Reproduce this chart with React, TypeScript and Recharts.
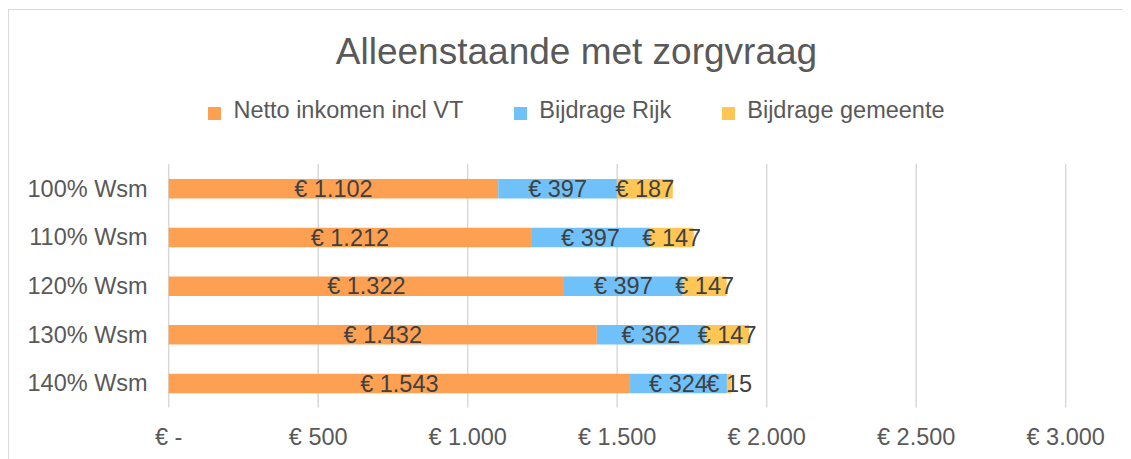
import React from "react";
import {
  BarChart,
  Bar,
  XAxis,
  YAxis,
  CartesianGrid,
  Legend,
  LabelList,
} from "recharts";

const categories = ["100% Wsm", "110% Wsm", "120% Wsm", "130% Wsm", "140% Wsm"];
const nettoInkomen = [1102, 1212, 1322, 1432, 1543];
const bijdrageRijk = [397, 397, 397, 362, 324];
const bijdrageGemeente = [187, 147, 147, 147, 15];
const xTicks = [0, 500, 1000, 1500, 2000, 2500, 3000];

const seriesNames = {
  netto: "Netto inkomen incl VT",
  rijk: "Bijdrage Rijk",
  gemeente: "Bijdrage gemeente",
};
const colors = {
  netto: "#FEA052",
  rijk: "#70C1FA",
  gemeente: "#FEC655",
};

const data = categories.map((name, i) => ({
  name,
  netto: nettoInkomen[i],
  rijk: bijdrageRijk[i],
  gemeente: bijdrageGemeente[i],
}));

const FONT = "'Liberation Sans', Arial, Helvetica, sans-serif";
const TEXT = "#595959";

const euro = (v: number) => {
  if (v === 0) return "€ -";
  return "€ " + String(v).replace(/\B(?=(\d{3})+(?!\d))/g, ".");
};

const CenterLabel = (props: any) => {
  const { x, y, width, height, value } = props;
  const cx = Number(x) + Number(width) / 2;
  const cy = Number(y) + Number(height) / 2;
  return (
    <text
      x={cx}
      y={cy}
      dy="0.355em"
      textAnchor="middle"
      fill="#404040"
      fontSize={23.5}
      fontFamily={FONT}
    >
      {euro(Number(value))}
    </text>
  );
};

const LegendContent = () => {
  const keys: Array<"netto" | "rijk" | "gemeente"> = ["netto", "rijk", "gemeente"];
  return (
    <div
      style={{
        display: "flex",
        justifyContent: "center",
        alignItems: "flex-start",
        width: 1137,
        fontFamily: FONT,
        fontSize: 23.5,
        lineHeight: "23.5px",
        color: TEXT,
      }}
    >
      {keys.map((k, i) => (
        <div
          key={k}
          style={{
            display: "flex",
            alignItems: "flex-start",
            marginRight: i < keys.length - 1 ? 51 : 0,
          }}
        >
          <div
            style={{
              width: 13,
              height: 13,
              background: colors[k],
              marginTop: 8,
              marginRight: 12,
            }}
          />
          <span style={{ whiteSpace: "nowrap" }}>{seriesNames[k]}</span>
        </div>
      ))}
    </div>
  );
};

export default function App() {
  return (
    <div
      style={{
        position: "relative",
        width: 1123,
        height: 451,
        overflow: "hidden",
        fontFamily: FONT,
      }}
    >
      <div
        style={{
          position: "absolute",
          left: 0,
          top: 1,
          width: 1137,
          height: 520,
          border: "1px solid #d9d9d9",
          boxSizing: "border-box",
        }}
      />
      <div
        style={{
          position: "absolute",
          left: 0,
          top: 24.7,
          width: 1137,
          textAlign: "center",
          fontSize: 37,
          lineHeight: "37px",
          color: TEXT,
          fontFamily: FONT,
          whiteSpace: "nowrap",
        }}
      >
        Alleenstaande met zorgvraag
      </div>
      <div style={{ position: "absolute", left: 0, top: 0 }}>
        <BarChart
          width={1123}
          height={451}
          data={data}
          layout="vertical"
          margin={{ top: 156, right: 65.3, bottom: 21.5, left: 0 }}
          barSize={19.5}
        >
          <CartesianGrid
            horizontal={false}
            vertical={true}
            stroke="#d9d9d9"
            strokeWidth={1.5}
          />
          <XAxis
            type="number"
            domain={[0, 3000]}
            ticks={xTicks}
            tickFormatter={euro}
            axisLine={false}
            tickLine={false}
            tickSize={6}
            tickMargin={15}
            height={30}
            interval={0}
            tick={{ fill: TEXT, fontSize: 23.5, fontFamily: FONT }}
          />
          <YAxis
            type="category"
            dataKey="name"
            width={160.7}
            axisLine={false}
            tickLine={false}
            tickSize={6}
            tickMargin={15}
            interval={0}
            tick={{ fill: TEXT, fontSize: 23.5, fontFamily: FONT }}
          />
          <Legend
            layout="horizontal"
            verticalAlign="middle"
            align="center"
            wrapperStyle={{ top: 91.1, left: 0, width: 1137 }}
            content={<LegendContent />}
          />
          <Bar
            dataKey="netto"
            name={seriesNames.netto}
            stackId="a"
            fill={colors.netto}
            isAnimationActive={false}
          >
            <LabelList dataKey="netto" content={<CenterLabel />} />
          </Bar>
          <Bar
            dataKey="rijk"
            name={seriesNames.rijk}
            stackId="a"
            fill={colors.rijk}
            isAnimationActive={false}
          >
            <LabelList dataKey="rijk" content={<CenterLabel />} />
          </Bar>
          <Bar
            dataKey="gemeente"
            name={seriesNames.gemeente}
            stackId="a"
            fill={colors.gemeente}
            isAnimationActive={false}
          >
            <LabelList dataKey="gemeente" content={<CenterLabel />} />
          </Bar>
        </BarChart>
      </div>
    </div>
  );
}
